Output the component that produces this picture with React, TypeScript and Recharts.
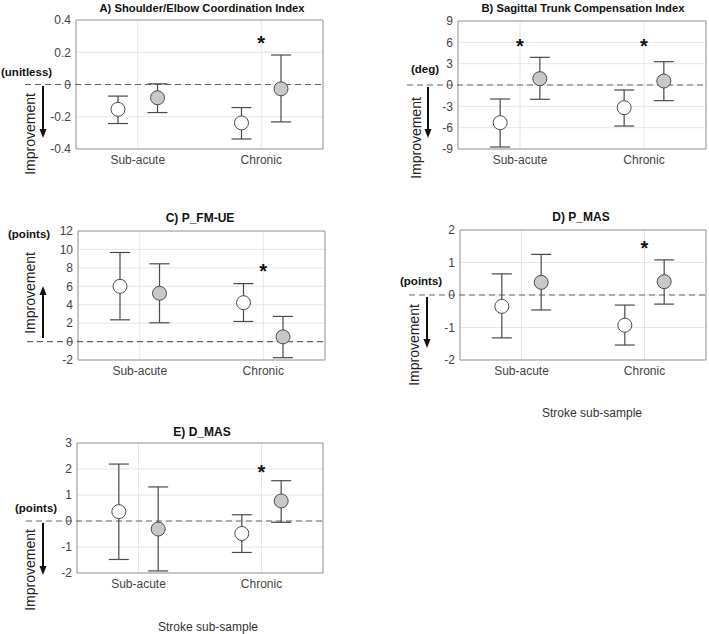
import React from "react";
import {
  ComposedChart,
  Scatter,
  ErrorBar,
  XAxis,
  YAxis,
  CartesianGrid,
  ReferenceLine,
  ReferenceArea,
} from "recharts";

const CATEGORIES = ["Sub-acute", "Chronic"];

// A) Shoulder/Elbow Coordination Index
const A_TICKS = [-0.4, -0.2, 0, 0.2, 0.4];
const A_OPEN_MEAN = [-0.154, -0.238];
const A_OPEN_LOW = [-0.242, -0.338];
const A_OPEN_HIGH = [-0.072, -0.143];
const A_FILLED_MEAN = [-0.082, -0.027];
const A_FILLED_LOW = [-0.174, -0.232];
const A_FILLED_HIGH = [0.004, 0.183];
const A_STARS = [null, 0.28];

// B) Sagittal Trunk Compensation Index
const B_TICKS = [-9, -6, -3, 0, 3, 6, 9];
const B_OPEN_MEAN = [-5.3, -3.19];
const B_OPEN_LOW = [-8.72, -5.77];
const B_OPEN_HIGH = [-1.97, -0.7];
const B_FILLED_MEAN = [0.89, 0.56];
const B_FILLED_LOW = [-2.01, -2.2];
const B_FILLED_HIGH = [3.89, 3.28];
const B_STARS = [6, 6];

// C) P_FM-UE
const C_TICKS = [-2, 0, 2, 4, 6, 8, 10, 12];
const C_OPEN_MEAN = [6.0, 4.22];
const C_OPEN_LOW = [2.36, 2.18];
const C_OPEN_HIGH = [9.67, 6.29];
const C_FILLED_MEAN = [5.24, 0.51];
const C_FILLED_LOW = [2.04, -1.75];
const C_FILLED_HIGH = [8.44, 2.73];
const C_STARS = [null, 8.1];

// D) P_MAS
const D_TICKS = [-2, -1, 0, 1, 2];
const D_OPEN_MEAN = [-0.35, -0.93];
const D_OPEN_LOW = [-1.32, -1.54];
const D_OPEN_HIGH = [0.65, -0.31];
const D_FILLED_MEAN = [0.39, 0.41];
const D_FILLED_LOW = [-0.46, -0.28];
const D_FILLED_HIGH = [1.25, 1.08];
const D_STARS = [null, 1.58];

// E) D_MAS
const E_TICKS = [-2, -1, 0, 1, 2, 3];
const E_OPEN_MEAN = [0.36, -0.48];
const E_OPEN_LOW = [-1.48, -1.21];
const E_OPEN_HIGH = [2.19, 0.24];
const E_FILLED_MEAN = [-0.31, 0.77];
const E_FILLED_LOW = [-1.92, -0.05];
const E_FILLED_HIGH = [1.31, 1.55];
const E_STARS = [null, 2.04];

const FONT = "'Liberation Sans', Arial, Helvetica, sans-serif";
const OFFSET = 0.16;

const toPoints = (
  mean: number[],
  low: number[],
  high: number[],
  shift: number
) =>
  mean.map((m, i) => ({
    x: i + 1 + shift,
    y: m,
    err: [m - low[i], high[i] - m],
  }));

const toStars = (stars: (number | null)[]) =>
  stars
    .map((s, i) => (s === null ? null : { x: i + 1, y: s }))
    .filter((p) => p !== null);

const OpenDot = (props: any) => (
  <circle cx={props.cx} cy={props.cy} r={7} fill="#ffffff" stroke="#4a4a4a" strokeWidth={1} />
);
const FilledDot = (props: any) => (
  <circle cx={props.cx} cy={props.cy} r={7} fill="#c8c8c8" stroke="#4a4a4a" strokeWidth={1} />
);
const Star = (props: any) => (
  <text
    x={props.cx}
    y={props.cy + 11}
    textAnchor="middle"
    fontSize={20}
    fontWeight="bold"
    fontFamily={FONT}
    fill="#111"
  >
    *
  </text>
);

// zero line runs out past the left edge of the plot, through the "0" label
const ZeroLine = (props: any) => (
  <line
    x1={props.x1 - 51}
    y1={props.y1}
    x2={props.x2}
    y2={props.y2}
    stroke="#666"
    strokeWidth={1.2}
    strokeDasharray="6 4"
  />
);

interface PanelProps {
  plotLeft: number;
  plotTop: number;
  plotW: number;
  plotH: number;
  ticks: number[];
  openMean: number[];
  openLow: number[];
  openHigh: number[];
  filledMean: number[];
  filledLow: number[];
  filledHigh: number[];
  stars: (number | null)[];
}

const Panel: React.FC<PanelProps> = (p) => {
  const yMin = p.ticks[0];
  const yMax = p.ticks[p.ticks.length - 1];
  const width = p.plotW + 62;
  const height = p.plotH + 40;
  return (
    <div style={{ position: "absolute", left: p.plotLeft - 60, top: p.plotTop - 10 }}>
      <ComposedChart
        width={width}
        height={height}
        margin={{ top: 10, right: 2, bottom: 0, left: 20 }}
      >
        <CartesianGrid stroke="#e6e6e6" strokeWidth={1} />
        <XAxis
          dataKey="x"
          type="number"
          domain={[0.5, 2.5]}
          ticks={[1, 2]}
          interval={0}
          tickFormatter={(v) => CATEGORIES[v - 1]}
          axisLine={false}
          tickLine={false}
          tickSize={0}
          tickMargin={6}
          height={30}
          tick={{ fill: "#444", fontSize: 12, fontFamily: FONT }}
          allowDataOverflow
        />
        <YAxis
          dataKey="y"
          type="number"
          domain={[yMin, yMax]}
          ticks={p.ticks}
          interval={0}
          axisLine={false}
          tickLine={false}
          tickSize={0}
          tickMargin={5}
          width={40}
          tick={{ fill: "#444", fontSize: 12, fontFamily: FONT }}
          allowDataOverflow
        />
        <ReferenceArea
          x1={0.5}
          x2={2.5}
          y1={yMin}
          y2={yMax}
          fill="none"
          stroke="#9a9a9a"
          strokeWidth={1}
          ifOverflow="extendDomain"
        />
        <ReferenceLine y={0} shape={ZeroLine} />
        <Scatter
          data={toPoints(p.openMean, p.openLow, p.openHigh, -OFFSET)}
          dataKey="y"
          shape={OpenDot}
          isAnimationActive={false}
        >
          <ErrorBar dataKey="err" direction="y" width={10} stroke="#4a4a4a" strokeWidth={1.2} />
        </Scatter>
        <Scatter
          data={toPoints(p.filledMean, p.filledLow, p.filledHigh, OFFSET)}
          dataKey="y"
          shape={FilledDot}
          isAnimationActive={false}
        >
          <ErrorBar dataKey="err" direction="y" width={10} stroke="#4a4a4a" strokeWidth={1.2} />
        </Scatter>
        <Scatter data={toStars(p.stars)} dataKey="y" shape={Star} isAnimationActive={false} />
      </ComposedChart>
    </div>
  );
};

const Arrow = ({ x, y1, y2 }: { x: number; y1: number; y2: number }) => {
  const dir = y2 > y1 ? 1 : -1;
  return (
    <g>
      <line x1={x} y1={y1} x2={x} y2={y2 - dir * 8} stroke="#111" strokeWidth={2} />
      <polygon
        points={`${x - 3.5},${y2 - dir * 9} ${x + 3.5},${y2 - dir * 9} ${x},${y2}`}
        fill="#111"
      />
    </g>
  );
};

const Improvement = ({ x, y }: { x: number; y: number }) => (
  <text
    x={x}
    y={y}
    transform={`rotate(-90 ${x} ${y})`}
    textAnchor="middle"
    dominantBaseline="central"
    fontSize={14}
    fontFamily={FONT}
    fill="#222"
  >
    Improvement
  </text>
);

const Title = ({ x, y, text, len }: { x: number; y: number; text: string; len?: number }) => (
  <text
    x={x}
    y={y}
    textAnchor="middle"
    dominantBaseline="central"
    fontSize={len ? 11 : 12}
    fontWeight="bold"
    fontFamily={FONT}
    fill="#111"
    textLength={len}
    lengthAdjust={len ? "spacingAndGlyphs" : undefined}
  >
    {text}
  </text>
);

const Unit = ({ x, y, text, anchor = "start" }: { x: number; y: number; text: string; anchor?: string }) => (
  <text
    x={x}
    y={y}
    textAnchor={anchor}
    dominantBaseline="central"
    fontSize={11.5}
    fontWeight="bold"
    fontFamily={FONT}
    fill="#111"
  >
    {text}
  </text>
);

const XTitle = ({ x, y }: { x: number; y: number }) => (
  <text
    x={x}
    y={y}
    textAnchor="middle"
    dominantBaseline="central"
    fontSize={12}
    fontFamily={FONT}
    fill="#333"
  >
    Stroke sub-sample
  </text>
);

export default function App() {
  return (
    <div
      style={{
        position: "absolute",
        left: 0,
        top: 0,
        width: 709,
        height: 634,
        overflow: "hidden",
        background: "#fff",
        fontFamily: FONT,
      }}
    >
      <Panel
        plotLeft={76}
        plotTop={20}
        plotW={247}
        plotH={129}
        ticks={A_TICKS}
        openMean={A_OPEN_MEAN}
        openLow={A_OPEN_LOW}
        openHigh={A_OPEN_HIGH}
        filledMean={A_FILLED_MEAN}
        filledLow={A_FILLED_LOW}
        filledHigh={A_FILLED_HIGH}
        stars={A_STARS}
      />
      <Panel
        plotLeft={458}
        plotTop={21}
        plotW={248}
        plotH={128}
        ticks={B_TICKS}
        openMean={B_OPEN_MEAN}
        openLow={B_OPEN_LOW}
        openHigh={B_OPEN_HIGH}
        filledMean={B_FILLED_MEAN}
        filledLow={B_FILLED_LOW}
        filledHigh={B_FILLED_HIGH}
        stars={B_STARS}
      />
      <Panel
        plotLeft={78}
        plotTop={231}
        plotW={247}
        plotH={129}
        ticks={C_TICKS}
        openMean={C_OPEN_MEAN}
        openLow={C_OPEN_LOW}
        openHigh={C_OPEN_HIGH}
        filledMean={C_FILLED_MEAN}
        filledLow={C_FILLED_LOW}
        filledHigh={C_FILLED_HIGH}
        stars={C_STARS}
      />
      <Panel
        plotLeft={460}
        plotTop={230}
        plotW={246}
        plotH={130}
        ticks={D_TICKS}
        openMean={D_OPEN_MEAN}
        openLow={D_OPEN_LOW}
        openHigh={D_OPEN_HIGH}
        filledMean={D_FILLED_MEAN}
        filledLow={D_FILLED_LOW}
        filledHigh={D_FILLED_HIGH}
        stars={D_STARS}
      />
      <Panel
        plotLeft={77}
        plotTop={443}
        plotW={246}
        plotH={130}
        ticks={E_TICKS}
        openMean={E_OPEN_MEAN}
        openLow={E_OPEN_LOW}
        openHigh={E_OPEN_HIGH}
        filledMean={E_FILLED_MEAN}
        filledLow={E_FILLED_LOW}
        filledHigh={E_FILLED_HIGH}
        stars={E_STARS}
      />
      <svg
        width={709}
        height={634}
        style={{ position: "absolute", left: 0, top: 0, pointerEvents: "none" }}
      >
        <Title x={202} y={8} text="A) Shoulder/Elbow Coordination Index" len={205} />
        <Title x={583} y={8} text="B) Sagittal Trunk Compensation Index" len={203} />
        <Title x={200} y={218} text="C) P_FM-UE" />
        <Title x={581} y={217} text="D) P_MAS" />
        <Title x={202} y={432} text="E) D_MAS" />

        <Unit x={1} y={72} text="(unitless)" />
        <Unit x={425} y={69} text="(deg)" anchor="middle" />
        <Unit x={8} y={234} text="(points)" />
        <Unit x={400} y={281} text="(points)" />
        <Unit x={15} y={508} text="(points)" />

        <Improvement x={30} y={134} />
        <Improvement x={416} y={138} />
        <Improvement x={30} y={293} />
        <Improvement x={414} y={345} />
        <Improvement x={30} y={570} />

        <Arrow x={43} y1={86} y2={138} />
        <Arrow x={428} y1={87} y2={138} />
        <Arrow x={43} y1={338} y2={286} />
        <Arrow x={427} y1={297} y2={348} />
        <Arrow x={43} y1={523} y2={575} />

        <XTitle x={592} y={413} />
        <XTitle x={208} y={627} />
      </svg>
    </div>
  );
}
